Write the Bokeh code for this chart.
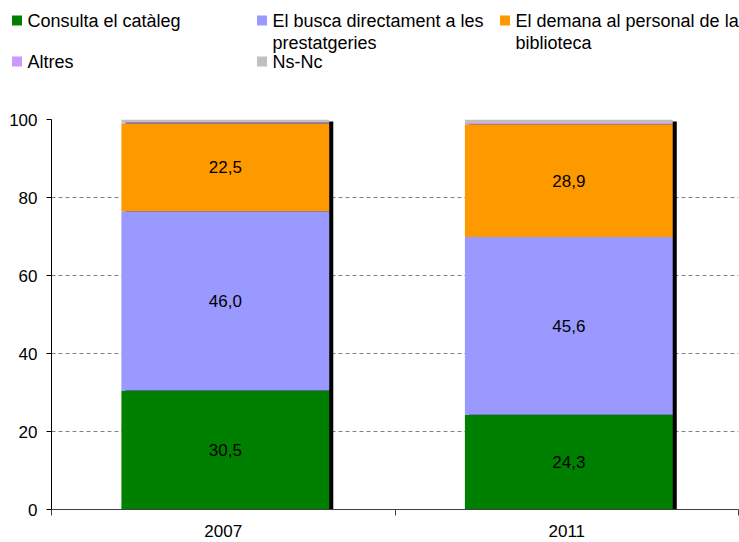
import numpy as np
from bokeh.plotting import figure
from bokeh.models import ColumnDataSource, Range1d, FixedTicker
from bokeh.layouts import column
from bokeh.core.properties import value
from bokeh.embed import file_html
from bokeh.resources import INLINE

# ---- data ----
years = ["2007", "2011"]
consulta = [30.5, 24.3]
busca = [46.0, 45.6]
demana = [22.5, 28.9]
altres = [0.2, 0.3]
nsnc = [0.8, 0.9]
series_keys = ["consulta", "busca", "demana", "altres", "nsnc"]
series_labels = ["Consulta el catàleg", "El busca directament a les\nprestatgeries",
                 "El demana al personal de la\nbiblioteca", "Altres", "Ns-Nc"]
colors = ["#008000", "#9999FF", "#FF9900", "#CC99FF", "#C0C0C0"]
y_ticks = [0, 20, 40, 60, 80, 100]

FONT = value("Liberation Sans")
W = 739
LEG_H = 103
MAIN_H = 542 - LEG_H

# ---- legend figure ----
leg = figure(width=W, height=LEG_H, output_backend="svg", toolbar_location=None,
             x_range=Range1d(0, W), y_range=Range1d(LEG_H, 0), min_border=0,
             x_axis_location=None, y_axis_location=None)
leg.frame_align = False
leg.grid.visible = False
leg.outline_line_color = None
col_x = [12, 257, 500, 12, 257]
row_y = [20, 20, 20, 61, 61]
line_gap = 22
sq_x, sq_y, t_x, t_y, t_txt = [], [], [], [], []
for i, lab in enumerate(series_labels):
    sq_x.append(col_x[i] + 4.5)
    sq_y.append(row_y[i])
    for j, line in enumerate(lab.split("\n")):
        t_x.append(col_x[i] + 15)
        t_y.append(row_y[i] + j * line_gap)
        t_txt.append(line)
leg.scatter(x=sq_x, y=sq_y, marker="square", size=10, fill_color=colors, line_color=None)
leg.text(x=t_x, y=t_y, text=t_txt, text_font=FONT, text_font_size="18px",
         text_baseline="middle", text_align="left", text_color="#000000")

# ---- main chart ----
n = len(years)
xs = np.arange(n) + 0.5
data = dict(x=xs + 0.006, consulta=consulta, busca=busca, demana=demana,
            altres=altres, nsnc=nsnc)
src = ColumnDataSource(data)

p = figure(width=W, height=MAIN_H, output_backend="svg", toolbar_location=None,
           x_range=Range1d(0, n), y_range=Range1d(0, 100),
           min_border_left=51, min_border_right=1, min_border_top=16, min_border_bottom=33)
p.frame_align = False
p.outline_line_color = None
p.xgrid.visible = False
p.ygrid.ticker = FixedTicker(ticks=y_ticks)
p.ygrid.grid_line_color = "#808080"
p.ygrid.grid_line_dash = "4 3"
p.ygrid.grid_line_width = 1

bw = 0.605
totals = np.sum([consulta, busca, demana, altres, nsnc], axis=0)
p.vbar(x=xs + 0.006 + 0.0118, width=bw, bottom=0, top=totals - 0.5,
       fill_color="black", line_color=None)
p.vbar_stack(series_keys, x="x", width=bw, color=colors, line_color=None, source=src)

# value labels for three main series
cum = np.zeros(n)
lx, ly, lt = [], [], []
for arr in [consulta, busca, demana]:
    a = np.array(arr)
    for k in range(n):
        lx.append(xs[k] + 0.006)
        ly.append(cum[k] + a[k] / 2)
        lt.append(f"{a[k]:.1f}".replace(".", ","))
    cum += a
p.text(x=lx, y=ly, text=lt, text_font=FONT, text_font_size="17px",
       text_align="center", text_baseline="middle", text_color="#000000")

# y axis
p.yaxis.ticker = FixedTicker(ticks=y_ticks)
p.yaxis.minor_tick_line_color = None
p.yaxis.major_tick_out = 5
p.yaxis.major_tick_in = 0
p.yaxis.axis_line_color = "#000000"
p.yaxis.major_tick_line_color = "#000000"
p.yaxis.major_label_text_font = "Liberation Sans"
p.yaxis.major_label_text_font_size = "17px"
p.yaxis.major_label_text_color = "#000000"
p.yaxis.major_label_standoff = 9

# x axis
p.xaxis.ticker = FixedTicker(ticks=list(xs), minor_ticks=list(range(n + 1)))
p.xaxis.major_label_overrides = {float(x): y for x, y in zip(xs, years)}
p.xaxis.major_tick_line_color = None
p.xaxis.major_tick_out = 0
p.xaxis.major_tick_in = 0
p.xaxis.minor_tick_out = 6
p.xaxis.minor_tick_in = 0
p.xaxis.minor_tick_line_color = "#404040"
p.xaxis.axis_line_color = "#404040"
p.xaxis.major_label_text_font = "Liberation Sans"
p.xaxis.major_label_text_font_size = "17px"
p.xaxis.major_label_text_color = "#000000"
p.xaxis.major_label_standoff = 9

layout = column(leg, p)
open("out.html", "w").write(file_html(layout, INLINE))
